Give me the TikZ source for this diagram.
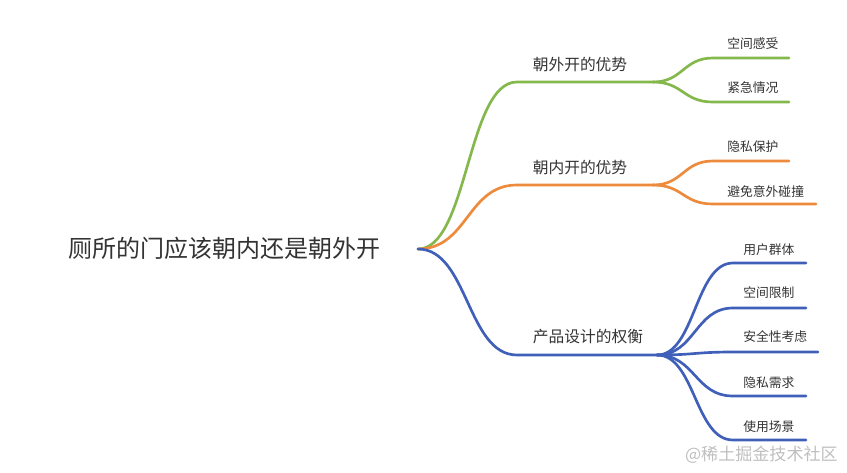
\documentclass[tikz,border=0pt]{standalone}
\usepackage{fontspec}
\setmainfont{Noto Sans CJK SC}
\usepackage{xcolor}
\usepackage{tikz}
\usetikzlibrary{positioning}

\definecolor{outgreen}{HTML}{84B84C}
\definecolor{inorange}{HTML}{EE8A3C}
\definecolor{tradeblue}{HTML}{3F5FB8}
\definecolor{txtgray}{HTML}{333333}

\begin{document}
\begin{tikzpicture}[x=0.75pt,y=-0.75pt,
  rootlbl/.style={anchor=west,inner sep=0pt,font=\fontsize{18}{20}\selectfont,text=txtgray},
  toplbl/.style={anchor=center,inner sep=0pt,font=\fontsize{11.8}{14}\selectfont,text=txtgray},
  leaflbl/.style={anchor=west,inner sep=0pt,font=\fontsize{9.6}{12}\selectfont,text=txtgray},
  branch/.style={line width=2pt,line cap=round}]

\useasboundingbox (0,0) rectangle (847,472);

% root
\node[rootlbl] (root) at (68,248) {厕所的门应该朝内还是朝外开};
\coordinate (r) at (418,249);

% first level
\coordinate (g)  at (517,82);  \coordinate (gs) at (653,82);
\coordinate (o)  at (517,185); \coordinate (os) at (653,185);
\coordinate (b)  at (517,355); \coordinate (bs) at (657,355);

\node[toplbl] (out)    at (580,65)  {朝外开的优势};
\node[toplbl] (in)     at (580,168) {朝内开的优势};
\node[toplbl] (design) at (588,337) {产品设计的权衡};

\draw[branch,outgreen]  (r) .. controls +(50,0) and +(-50,0) .. (g) -- (gs);
\draw[branch,inorange]  (r) .. controls +(50,0) and +(-50,0) .. (o) -- (os);
\draw[branch,tradeblue] (r) .. controls +(50,0) and +(-50,0) .. (b) -- (bs);

% leaves: outward
\coordinate (g1) at (713,58);  \coordinate (g1e) at (789,58);
\coordinate (g2) at (713,102); \coordinate (g2e) at (789,102);
\node[leaflbl] (space)  at (727,44) {空间感受};
\node[leaflbl] (urgent) at (727,88) {紧急情况};
\draw[branch,outgreen] (gs) .. controls +(30,0) and +(-30,0) .. (g1) -- (g1e);
\draw[branch,outgreen] (gs) .. controls +(30,0) and +(-30,0) .. (g2) -- (g2e);

% leaves: inward
\coordinate (o1) at (713,161); \coordinate (o1e) at (789,161);
\coordinate (o2) at (713,204); \coordinate (o2e) at (816,204);
\node[leaflbl] (privacy) at (727,147) {隐私保护};
\node[leaflbl] (bump)    at (727,192) {避免意外碰撞};
\draw[branch,inorange] (os) .. controls +(30,0) and +(-30,0) .. (o1) -- (o1e);
\draw[branch,inorange] (os) .. controls +(30,0) and +(-30,0) .. (o2) -- (o2e);

% leaves: trade-off
\coordinate (b1) at (733,263); \coordinate (b1e) at (806,263);
\coordinate (b2) at (733,308); \coordinate (b2e) at (806,308);
\coordinate (b3) at (733,352); \coordinate (b3e) at (818,352);
\coordinate (b4) at (733,396); \coordinate (b4e) at (806,396);
\coordinate (b5) at (733,440); \coordinate (b5e) at (806,440);
\node[leaflbl] (users)  at (743,250) {用户群体};
\node[leaflbl] (limit)  at (743,293) {空间限制};
\node[leaflbl] (safety) at (743,337) {安全性考虑};
\node[leaflbl] (needs)  at (743,383) {隐私需求};
\node[leaflbl] (usage)  at (743,427) {使用场景};
\foreach \k in {b1,b2,b3,b4,b5}
  \draw[branch,tradeblue] (bs) .. controls +(38,0) and +(-38,0) .. (\k) -- (\k e);

% watermark
\node[anchor=east,inner sep=0pt,font=\fontsize{12.8}{14}\selectfont,text=black!25] (mark) at (838,455) {@稀土掘金技术社区};
\end{tikzpicture}
\end{document}
